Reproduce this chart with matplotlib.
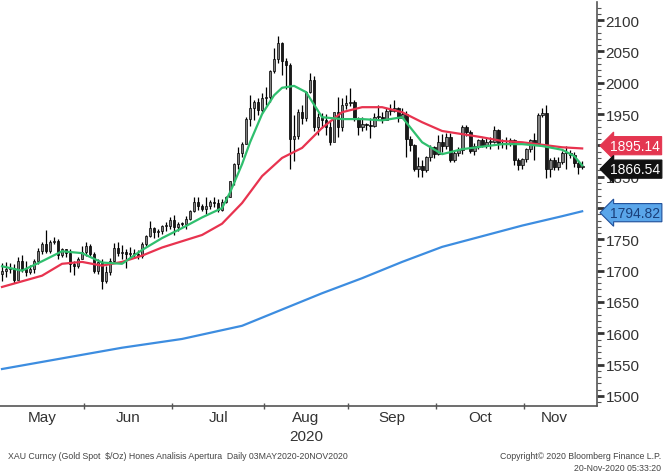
import numpy as np
import matplotlib
matplotlib.use("Agg")
import matplotlib.pyplot as plt
import pandas as pd

plt.rcParams['font.family'] = ['Liberation Sans', 'DejaVu Sans']

# ---- data ----
dates = pd.bdate_range('2020-05-01', '2020-11-20')

close = [1700, 1702, 1705, 1685, 1716, 1703, 1698, 1702, 1715, 1731, 1743, 1732, 1745, 1747, 1725, 1735, 1728, 1710, 1708, 1719, 1730,
         1740, 1727, 1700, 1714, 1684, 1698, 1715, 1737, 1728, 1730, 1726, 1727, 1727, 1723, 1743, 1755, 1768, 1761, 1764, 1771, 1772, 1781,
         1769, 1775, 1774, 1783, 1795, 1810, 1803, 1798, 1803, 1810, 1808, 1797, 1810, 1817, 1843, 1871, 1888, 1902, 1942, 1960, 1970, 1957, 1975,
         1977, 2019, 2038, 2063, 2035, 2028, 1911, 1915, 1954, 1944, 1985, 2004, 1929, 1946, 1940, 1929, 1906, 1953, 1930, 1964, 1968,
         1970, 1944, 1930, 1934, 1933, 1931, 1946, 1946, 1940, 1955, 1955, 1960, 1943, 1950, 1911, 1900, 1863, 1867, 1861, 1881, 1898, 1887,
         1905, 1899, 1913, 1877, 1888, 1893, 1930, 1921, 1891, 1899, 1908, 1899, 1905, 1906, 1924, 1904, 1902, 1902, 1908, 1877, 1868, 1879,
         1894, 1909, 1904, 1948, 1951, 1862, 1877, 1866, 1873, 1888, 1888, 1884, 1872, 1866, 1866.54]
high = [1712, 1714, 1712, 1710, 1722, 1725, 1715, 1709, 1718, 1737, 1746, 1765, 1749, 1753, 1750, 1737, 1735, 1735, 1716, 1722, 1739,
        1745, 1742, 1730, 1719, 1718, 1708, 1720, 1744, 1745, 1741, 1735, 1738, 1734, 1733, 1746, 1757, 1779, 1769, 1767, 1773, 1778, 1785,
        1789, 1777, 1777, 1787, 1797, 1818, 1818, 1806, 1818, 1813, 1818, 1814, 1814, 1820, 1843, 1872, 1898, 1906, 1945, 1981, 1972, 1975, 1984,
        1994, 2021, 2055, 2075, 2065, 2040, 2032, 1949, 1958, 1964, 1987, 2016, 2010, 1952, 1951, 1950, 1940, 1954, 1978, 1975, 1980,
        1992, 1973, 1945, 1945, 1935, 1944, 1951, 1965, 1954, 1960, 1966, 1973, 1962, 1960, 1955, 1915, 1903, 1882, 1876, 1883, 1900, 1899,
        1917, 1918, 1920, 1920, 1893, 1898, 1933, 1933, 1925, 1904, 1911, 1912, 1912, 1913, 1931, 1926, 1911, 1914, 1912, 1911, 1880, 1880,
        1896, 1910, 1920, 1952, 1960, 1965, 1880, 1881, 1881, 1891, 1899, 1892, 1889, 1876, 1875]
low = [1683, 1690, 1696, 1680, 1686, 1698, 1692, 1695, 1696, 1710, 1727, 1729, 1729, 1743, 1718, 1722, 1722, 1698, 1693, 1704, 1718,
       1724, 1723, 1696, 1694, 1670, 1680, 1693, 1713, 1723, 1719, 1704, 1720, 1720, 1718, 1720, 1739, 1753, 1752, 1754, 1759, 1764, 1766,
       1757, 1764, 1771, 1767, 1781, 1793, 1797, 1795, 1791, 1799, 1801, 1793, 1796, 1808, 1817, 1837, 1862, 1882, 1902, 1931, 1940, 1948, 1952,
       1964, 1969, 2015, 2032, 2013, 1990, 1863, 1875, 1910, 1934, 1939, 1983, 1923, 1917, 1928, 1917, 1900, 1908, 1913, 1923, 1958,
       1963, 1939, 1916, 1923, 1924, 1912, 1930, 1941, 1935, 1941, 1949, 1953, 1938, 1943, 1882, 1891, 1859, 1849, 1850, 1857, 1875, 1880,
       1884, 1890, 1894, 1873, 1874, 1883, 1887, 1915, 1888, 1885, 1894, 1898, 1896, 1894, 1904, 1894, 1896, 1894, 1899, 1868, 1860, 1862,
       1874, 1890, 1877, 1902, 1946, 1848, 1850, 1861, 1860, 1871, 1862, 1880, 1865, 1855, 1863]
first_open = 1695

# moving averages, read at a few trading-day positions
ma_fast_idx = [0, 5, 10, 15, 20, 25, 30, 35, 40, 45, 50, 55, 57, 60, 62, 65, 68, 70, 73, 76, 78, 80, 85,
               90, 95, 100, 105, 110, 115, 120, 125, 130, 135, 140, 143, 145]
ma_fast = [1707, 1700, 1715, 1731, 1728, 1713, 1711, 1733, 1752, 1768, 1785, 1800, 1825, 1870, 1905, 1950, 1980, 1992, 1995, 1985, 1965, 1945, 1942,
           1942, 1940, 1945, 1905, 1886, 1894, 1898, 1902, 1902, 1899, 1893, 1883, 1868]
ma_mid_idx = list(range(0, 146, 5))
ma_mid = [1674, 1683, 1692, 1711, 1714, 1708, 1714, 1724, 1737, 1747, 1757, 1775, 1808, 1851, 1880,
          1896, 1928, 1953, 1961, 1961, 1953, 1937, 1923, 1918, 1913, 1907, 1905, 1901, 1897, 1895.14]
ma_slow_idx = [0, 15, 30, 45, 60, 70, 80, 90, 100, 110, 120, 130, 140, 145]
ma_slow = [1543, 1560, 1577, 1591, 1612, 1638, 1664, 1688, 1714, 1738, 1755, 1772, 1787, 1794.82]

yticks = [1500, 1550, 1600, 1650, 1700, 1750, 1800, 1850, 1900, 1950, 2000, 2050, 2100]
hidden_ticks = [1800, 1900]   # covered by the value tags

# ---- figure ----
fig = plt.figure(figsize=(6.65, 4.77), dpi=100)
ax = fig.add_axes([0.0, 0.1468, 0.898, 0.847])

x = np.arange(len(dates))
opens = [first_open] + close[:-1]
for i in x:
    o, c = opens[i], close[i]
    ax.vlines(i, low[i], high[i], color='black', lw=0.9, zorder=2)
    bottom = min(o, c)
    h = max(abs(c - o), 1.5)
    face = '#808080' if c >= o else '#1a1a1a'
    ax.bar(i, h, bottom=bottom, width=0.7, color=face, edgecolor='black', lw=0.5, zorder=3)

ax.plot(ma_slow_idx, ma_slow, color='#3d8de0', lw=1.6, zorder=4)
ax.plot(ma_mid_idx, ma_mid, color='#e8334f', lw=1.6, zorder=4)
ax.plot(ma_fast_idx, ma_fast, color='#2fbf6e', lw=1.6, zorder=5)

ax.set_xlim(-0.5, 148.75)
ax.set_ylim(1484, 2129)

for s in ['left', 'top']:
    ax.spines[s].set_visible(False)
for s in ['right', 'bottom']:
    ax.spines[s].set_color('#555555')
    ax.spines[s].set_linewidth(1.2)

# y axis on right
ax.yaxis.tick_right()
ax.set_yticks(yticks)
ax.set_yticklabels(['' if t in hidden_ticks else str(t) for t in yticks])
ax.set_yticks(np.arange(1490, 2130, 10), minor=True)
ax.tick_params(axis='y', which='major', direction='out', length=5, width=2,
               colors='#333333', labelsize=11, pad=1)
ax.tick_params(axis='y', which='minor', direction='out', length=3, width=0.8, colors='#555555')

# x axis: month boundaries as ticks, names centred in each month
months = dates.to_period('M')
bounds = [i - 0.5 for i in range(1, len(dates)) if months[i] != months[i - 1]]
starts = [0] + [int(b + 0.5) for b in bounds]
ends = [int(b + 0.5) for b in bounds] + [len(dates)]
centres = [(s + e - 1) / 2 for s, e in zip(starts, ends)]
names = [dates[s].strftime('%b') for s in starts]
ax.set_xticks(bounds)
ax.set_xticklabels([])
ax.set_xticks(centres, minor=True)
ax.set_xticklabels(names, minor=True)
ax.tick_params(axis='x', which='major', direction='inout', length=5, width=1, colors='#555555')
ax.tick_params(axis='x', which='minor', length=0, labelsize=11, labelcolor='#333333', pad=3)
aug = names.index('Aug')
ax.text(centres[aug], -0.075, '2020', transform=ax.get_xaxis_transform(),
        ha='center', va='center', fontsize=11, color='#333333')

# last value tags
tags = [(1895.14, '#e43650', 'white', 2), (1866.54, '#111111', 'white', -2), (1794.82, '#5aa6ea', '#1a3f7a', -1)]
for val, bg, fg, dy in tags:
    ax.annotate(f'{val:.2f}', xy=(1.0, val), xycoords=('axes fraction', 'data'),
                xytext=(9, dy), textcoords='offset points', ha='left', va='center',
                fontsize=10, color=fg, zorder=10, annotation_clip=False,
                bbox=dict(boxstyle='larrow,pad=0.15', fc=bg, ec='#1f4f9a' if fg != 'white' else bg, lw=0.8))

# footer
fig.text(0.012, 0.042, 'XAU Curncy (Gold Spot  $/Oz) Hones Analisis Apertura  Daily 03MAY2020-20NOV2020',
         fontsize=6.3, color='#444444', ha='left', va='center')
fig.text(0.994, 0.042, 'Copyright\u00a9 2020 Bloomberg Finance L.P.', fontsize=6.3, color='#444444',
         ha='right', va='center')
fig.text(0.994, 0.017, '20-Nov-2020 05:33:20', fontsize=6.3, color='#444444', ha='right', va='center')

fig.savefig('out.png', dpi=100)
